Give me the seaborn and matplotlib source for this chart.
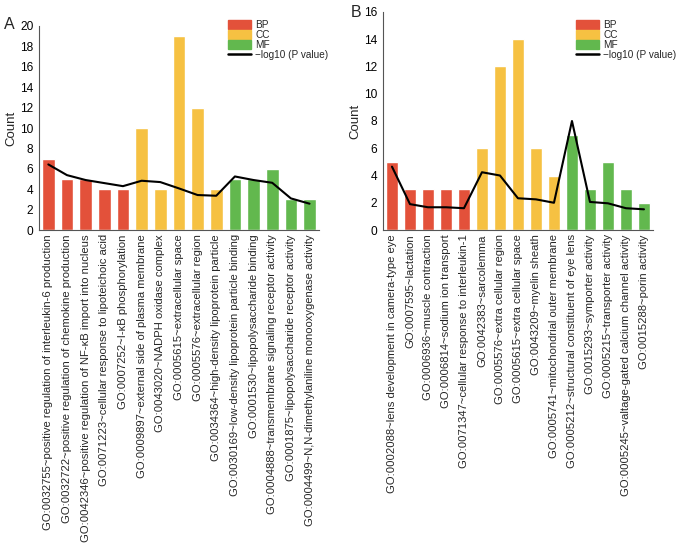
import numpy as np
import pandas as pd
import matplotlib
matplotlib.use("Agg")
import matplotlib.pyplot as plt
import seaborn as sns
from matplotlib.patches import Patch
from matplotlib.lines import Line2D

sns.set_style("white")
plt.rcParams["font.family"] = ["Liberation Sans", "DejaVu Sans"]

# Panel A data
terms_a = [
    "GO:0032755~positive regulation of interleukin-6 production",
    "GO:0032722~positive regulation of chemokine production",
    "GO:0042346~positive regulation of NF-\u03baB import into nucleus",
    "GO:0071223~cellular response to lipoteichoic acid",
    "GO:0007252~I-\u03baB phosphorylation",
    "GO:0009897~external side of plasma membrane",
    "GO:0043020~NADPH oxidase complex",
    "GO:0005615~extracellular space",
    "GO:0005576~extracellular region",
    "GO:0034364~high-density lipoprotein particle",
    "GO:0030169~low-density lipoprotein particle binding",
    "GO:0001530~lipopolysaccharide binding",
    "GO:0004888~transmembrane signaling receptor activity",
    "GO:0001875~lipopolysaccharide receptor activity",
    "GO:0004499~N,N-dimethylaniline monooxygenase activity",
]
cat_a = ["BP"] * 5 + ["CC"] * 5 + ["MF"] * 5
count_a = [7, 5, 5, 4, 4, 10, 4, 19, 12, 4, 5, 5, 6, 3, 3]
logp_a = [6.43, 5.38, 4.9, 4.6, 4.3, 4.83, 4.7, 4.08, 3.43, 3.36, 5.25, 4.9, 4.63, 3.1, 2.58]

# Panel B data
terms_b = [
    "GO:0002088~lens development in camera-type eye",
    "GO:0007595~lactation",
    "GO:0006936~muscle contraction",
    "GO:0006814~sodium ion transport",
    "GO:0071347~cellular response to interleukin-1",
    "GO:0042383~sarcolemma",
    "GO:0005576~extra cellular region",
    "GO:0005615~extra cellular space",
    "GO:0043209~myelin sheath",
    "GO:0005741~mitochondrial outer membrane",
    "GO:0005212~structural constituent of eye lens",
    "GO:0015293~symporter activity",
    "GO:0005215~transporter activity",
    "GO:0005245~valtage-gated calcium channel activity",
    "GO:0015288~porin activity",
]
cat_b = ["BP"] * 5 + ["CC"] * 5 + ["MF"] * 5
count_b = [5, 3, 3, 3, 3, 6, 12, 14, 6, 4, 7, 3, 5, 3, 2]
logp_b = [4.65, 1.9, 1.67, 1.67, 1.6, 4.24, 4.0, 2.33, 2.25, 2.0, 8.0, 2.06, 1.96, 1.6, 1.52]

palette = {"BP": "#E3513A", "CC": "#F6C142", "MF": "#62B84E"}

fig = plt.figure(figsize=(6.77, 5.52), dpi=100)
ax_a = fig.add_axes([0.0576, 0.5833, 0.4134, 0.3696])
ax_b = fig.add_axes([0.5657, 0.5833, 0.3988, 0.3950])


def draw(ax, terms, cats, counts, logp, ymax, leg_xy):
    df = pd.DataFrame({"term": terms, "cat": cats, "count": counts, "logp": logp})
    sns.barplot(data=df, x="term", y="count", hue="cat", palette=palette,
                dodge=False, width=0.68, saturation=1, ax=ax, legend=False)
    sns.lineplot(x=np.arange(len(terms)), y=df["logp"], color="black", lw=1.5, ax=ax)
    ax.set_xlim(-0.5, len(terms) - 0.5)
    ax.set_ylim(0, ymax)
    ax.set_yticks(np.arange(0, ymax + 1, 2))
    ax.set_xlabel("")
    ax.set_ylabel("Count", fontsize=9.5, labelpad=2)
    ax.set_xticks(np.arange(len(terms)))
    ax.set_xticklabels(terms, rotation=90, fontsize=8.1)
    ax.set_xticks(np.arange(-0.5, len(terms)), minor=True)
    ax.tick_params(axis="x", which="major", length=0, pad=3)
    ax.tick_params(axis="x", which="minor", length=3, width=0.8, direction="out", colors="#555555")
    ax.tick_params(axis="y", length=3, width=0.8, direction="out", labelsize=8.6, pad=1, colors="#333333")
    ax.tick_params(axis="y", labelcolor="black")
    for s in ["top", "right"]:
        ax.spines[s].set_visible(False)
    for s in ["left", "bottom"]:
        ax.spines[s].set_color("#555555")
        ax.spines[s].set_linewidth(0.8)
    handles = [Patch(color=palette[k], label=k) for k in ["BP", "CC", "MF"]]
    handles.append(Line2D([0], [0], color="black", lw=1.8, label="\u2212log10 (P value)"))
    ax.legend(handles=handles, loc="upper left", bbox_to_anchor=leg_xy,
              bbox_transform=fig.transFigure,
              frameon=False, fontsize=7.2, labelspacing=0.0, handlelength=2.3,
              handleheight=1.0, handletextpad=0.4, borderaxespad=0, borderpad=0)


draw(ax_a, terms_a, cat_a, count_a, logp_a, 20, (228 / 677, 1 - 20 / 552))
draw(ax_b, terms_b, cat_b, count_b, logp_b, 16, (576 / 677, 1 - 20 / 552))

fig.text(0.006, 0.955, "A", fontsize=11.5, va="center")
fig.text(0.518, 0.978, "B", fontsize=11.5, va="center")

fig.savefig("out.png", dpi=100)
